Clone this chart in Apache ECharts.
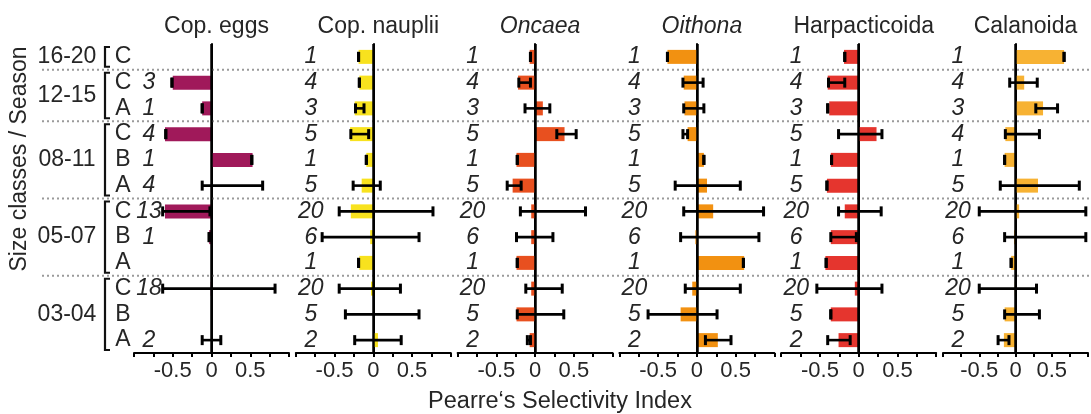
<!DOCTYPE html>
<html>
<head>
<meta charset="utf-8">
<script src="https://cdn.jsdelivr.net/npm/echarts@6/dist/echarts.min.js"></script>
<style>
  html, body { margin: 0; padding: 0; background: #fff; }
  #chart { width: 1091px; height: 414px; }
</style>
</head>
<body>
<div id="chart"></div>
<script>
// rows, top to bottom
var rowLetters = ['C', 'C', 'A', 'C', 'B', 'A', 'C', 'B', 'A', 'C', 'B', 'A'];
var groupNames = ['16-20', '12-15', '08-11', '05-07', '03-04'];
var groupStart = [0, 1, 3, 6, 9];
var groupEnd = [0, 2, 5, 8, 11];

var panelNames = ['Cop. eggs', 'Cop. nauplii', 'Oncaea', 'Oithona', 'Harpacticoida', 'Calanoida'];
var panelItalic = [false, false, true, true, false, false];
var panelColors = ['#A0195A', '#F8E21E', '#E8501F', '#F29111', '#E5352E', '#F7B233'];

// Cop. eggs
var eggsN = ['', 3, 1, 4, 1, 4, 13, 1, '', 18, '', 2];
var eggsMean = [null, -0.50, -0.12, -0.60, 0.53, 0, -0.60, -0.03, null, -0.01, null, 0];
var eggsLow = [null, -0.51, -0.12, -0.59, 0.52, -0.12, -0.63, -0.03, null, -0.63, null, -0.12];
var eggsHigh = [null, -0.51, -0.12, -0.59, 0.52, 0.66, -0.02, -0.03, null, 0.82, null, 0.12];

// Cop. nauplii
var naupN = [1, 4, 3, 5, 1, 5, 20, 6, 1, 20, 5, 2];
var naupMean = [-0.19, -0.18, -0.24, -0.30, -0.09, -0.15, -0.29, -0.04, -0.18, -0.03, 0, 0.06];
var naupLow = [-0.19, -0.18, -0.23, -0.29, -0.09, -0.26, -0.44, -0.66, -0.19, -0.44, -0.36, -0.24];
var naupHigh = [-0.19, -0.18, -0.12, -0.06, -0.09, 0.09, 0.77, 0.59, -0.19, 0.35, 0.59, 0.36];

// Oncaea
var oncN = [1, 4, 3, 5, 1, 5, 20, 6, 1, 20, 5, 2];
var oncMean = [-0.07, -0.22, 0.10, 0.38, -0.24, -0.29, -0.05, -0.05, -0.24, -0.05, -0.24, -0.07];
var oncLow = [-0.06, -0.21, -0.13, 0.28, -0.23, -0.36, -0.19, -0.24, -0.23, -0.12, -0.23, -0.10];
var oncHigh = [-0.06, -0.06, 0.19, 0.53, -0.23, -0.18, 0.65, 0.23, -0.23, 0.35, 0.37, -0.06];

// Oithona
var oitN = [1, 4, 3, 5, 1, 5, 20, 6, 1, 20, 5, 2];
var oitMean = [-0.38, -0.17, -0.16, -0.12, 0.09, 0.13, 0.21, -0.02, 0.61, -0.06, -0.21, 0.27];
var oitLow = [-0.38, -0.18, -0.17, -0.18, 0.09, -0.28, -0.17, -0.21, 0.60, -0.15, -0.63, 0.11];
var oitHigh = [-0.38, 0.08, 0.09, -0.12, 0.09, 0.56, 0.86, 0.80, 0.60, 0.56, 0.26, 0.44];

// Harpacticoida
var harN = [1, 4, 3, 5, 1, 5, 20, 6, 1, 20, 5, 2];
var harMean = [-0.19, -0.40, -0.38, 0.23, -0.36, -0.41, -0.18, -0.36, -0.43, -0.05, -0.36, -0.26];
var harLow = [-0.18, -0.39, -0.40, -0.26, -0.35, -0.41, -0.26, -0.36, -0.42, -0.54, -0.36, -0.40];
var harHigh = [-0.18, -0.18, -0.40, 0.30, -0.35, -0.41, 0.29, -0.03, -0.42, 0.30, -0.36, -0.11];

// Calanoida
var calN = [1, 4, 3, 4, 1, 5, 20, 6, 1, 20, 5, 2];
var calMean = [0.67, 0.12, 0.38, -0.14, -0.15, 0.31, 0.05, -0.02, -0.06, -0.01, -0.15, -0.16];
var calLow = [0.67, -0.08, 0.28, -0.14, -0.15, -0.21, -0.50, -0.15, -0.06, -0.50, -0.15, -0.24];
var calHigh = [0.67, 0.30, 0.58, 0.33, -0.15, 0.88, 0.97, 0.97, -0.06, 0.29, 0.33, -0.09];

var panelN = [eggsN, naupN, oncN, oitN, harN, calN];
var panelMean = [eggsMean, naupMean, oncMean, oitMean, harMean, calMean];
var panelLow = [eggsLow, naupLow, oncLow, oitLow, harLow, calLow];
var panelHigh = [eggsHigh, naupHigh, oncHigh, oitHigh, harHigh, calHigh];

var xTicks = [-0.5, 0, 0.5];

var FONT = 'Liberation Sans, Arial, sans-serif';
var TEXT = '#262626';
var gridTop = 44, gridH = 309;
var panelLeft0 = 134, panelStep = 161.8, panelW = 155;

var myChart = echarts.init(document.getElementById('chart'));

var grids = [{ left: 40, right: 0, top: gridTop, height: gridH }];
var xAxes = [{ gridIndex: 0, type: 'value', min: 0, max: 1, show: false }];
var yAxes = [{
  gridIndex: 0,
  type: 'category',
  data: rowLetters,
  inverse: true,
  axisLine: { show: false },
  axisTick: { show: false },
  splitLine: { show: false },
  axisLabel: {
    interval: 0,
    inside: true, margin: 83, align: 'center',
    fontFamily: FONT, fontSize: 23, color: TEXT
  }
}];
var titles = [];
var series = [];

// brackets, season labels and dotted separators
series.push({
  type: 'custom',
  xAxisIndex: 0,
  yAxisIndex: 0,
  silent: true,
  z: 1,
  data: groupStart.map(function (s, i) { return [0, s, groupEnd[i]]; }),
  renderItem: function (params, api) {
    var band = api.size([0, 1])[1];
    var edge = api.coord([0, api.value(1)])[1] - band / 2;
    var top = edge + 3;
    var bottom = api.coord([0, api.value(2)])[1] + band / 2 - 3;
    var cs = params.coordSys;
    var x0 = cs.x + 65;
    var kids = [{
      type: 'polyline',
      shape: { points: [[x0 + 5, top], [x0, top], [x0, bottom], [x0 + 5, bottom]] },
      style: { stroke: '#111', lineWidth: 2.2, fill: null }
    }, {
      type: 'text',
      x: cs.x + 27,
      y: (top + bottom) / 2,
      style: {
        text: groupNames[params.dataIndex],
        font: '23px ' + FONT, fill: TEXT,
        align: 'center', verticalAlign: 'middle'
      }
    }];
    if (params.dataIndex > 0) {
      kids.push({
        type: 'line',
        shape: { x1: cs.x + 2, y1: edge, x2: cs.x + cs.width, y2: edge },
        style: { stroke: '#9a9a9a', lineWidth: 2, lineDash: [2, 3] }
      });
    }
    return { type: 'group', children: kids };
  }
});

panelNames.forEach(function (name, k) {
  var gi = k + 1;
  var left = panelLeft0 + k * panelStep;
  grids.push({ left: left, width: panelW, top: gridTop, height: gridH });
  titles.push({
    text: name,
    left: left + panelW / 2,
    top: 10,
    textAlign: 'center',
    textStyle: {
      fontFamily: FONT, fontSize: 23, fontWeight: 'normal', color: TEXT,
      fontStyle: panelItalic[k] ? 'italic' : 'normal'
    }
  });
  xAxes.push({
    gridIndex: gi,
    type: 'value',
    min: -1, max: 1, interval: 0.5,
    axisLine: { show: true, lineStyle: { color: '#000', width: 2 } },
    axisTick: { show: true, length: 4, lineStyle: { color: '#000', width: 2 } },
    minorTick: { show: true, splitNumber: 2, length: 4, lineStyle: { color: '#000', width: 2 } },
    splitLine: { show: false },
    axisLabel: {
      margin: 7,
      fontFamily: FONT, fontSize: 22, color: TEXT,
      formatter: function (v) { return xTicks.indexOf(v) >= 0 ? String(v) : ''; }
    }
  });
  yAxes.push({
    gridIndex: gi,
    type: 'category',
    data: rowLetters,
    inverse: true,
    axisLine: { show: true, lineStyle: { color: '#000', width: 2 } },
    axisTick: { show: false },
    splitLine: { show: false },
    axisLabel: {
      interval: 0,
      inside: true, margin: 15, align: 'center',
      fontFamily: FONT, fontSize: 23, fontStyle: 'italic', color: TEXT,
      formatter: function (v, idx) { return String(panelN[k][idx]); }
    }
  });
  series.push({
    type: 'bar',
    xAxisIndex: gi,
    yAxisIndex: gi,
    barWidth: 14,
    z: 3,
    itemStyle: { color: panelColors[k] },
    data: panelMean[k],
    markLine: {
      silent: true,
      symbol: ['none', 'none'],
      label: { show: false },
      lineStyle: { color: '#000', width: 2.5, type: 'solid' },
      data: [{ xAxis: 0 }]
    }
  });
  var errData = [];
  panelLow[k].forEach(function (lo, i) {
    if (lo !== null) errData.push([lo, panelHigh[k][i], i]);
  });
  series.push({
    type: 'custom',
    xAxisIndex: gi,
    yAxisIndex: gi,
    z: 5,
    silent: true,
    data: errData,
    renderItem: function (params, api) {
      var p1 = api.coord([api.value(0), api.value(2)]);
      var p2 = api.coord([api.value(1), api.value(2)]);
      var h = 5;
      var st = { stroke: '#000', lineWidth: 2.6 };
      var stc = { stroke: '#000', lineWidth: 3 };
      return {
        type: 'group',
        children: [
          { type: 'line', shape: { x1: p1[0], y1: p1[1], x2: p2[0], y2: p2[1] }, style: st },
          { type: 'line', shape: { x1: p1[0], y1: p1[1] - h, x2: p1[0], y2: p1[1] + h }, style: stc },
          { type: 'line', shape: { x1: p2[0], y1: p2[1] - h, x2: p2[0], y2: p2[1] + h }, style: stc }
        ]
      };
    }
  });
});

var option = {
  animation: false,
  title: titles,
  grid: grids,
  xAxis: xAxes,
  yAxis: yAxes,
  series: series,
  graphic: [{
    type: 'text',
    x: 20, y: 159,
    rotation: Math.PI / 2,
    style: {
      text: 'Size classes / Season',
      font: '23px ' + FONT, fill: TEXT,
      align: 'center', verticalAlign: 'middle'
    }
  }, {
    type: 'text',
    x: 560, y: 402,
    style: {
      text: 'Pearre\u2018s Selectivity Index',
      font: '23.5px ' + FONT, fill: TEXT,
      align: 'center', verticalAlign: 'middle'
    }
  }]
};
myChart.setOption(option);
window.addEventListener('resize', function () {
  myChart.resize();
});
</script>
</body>
</html>
